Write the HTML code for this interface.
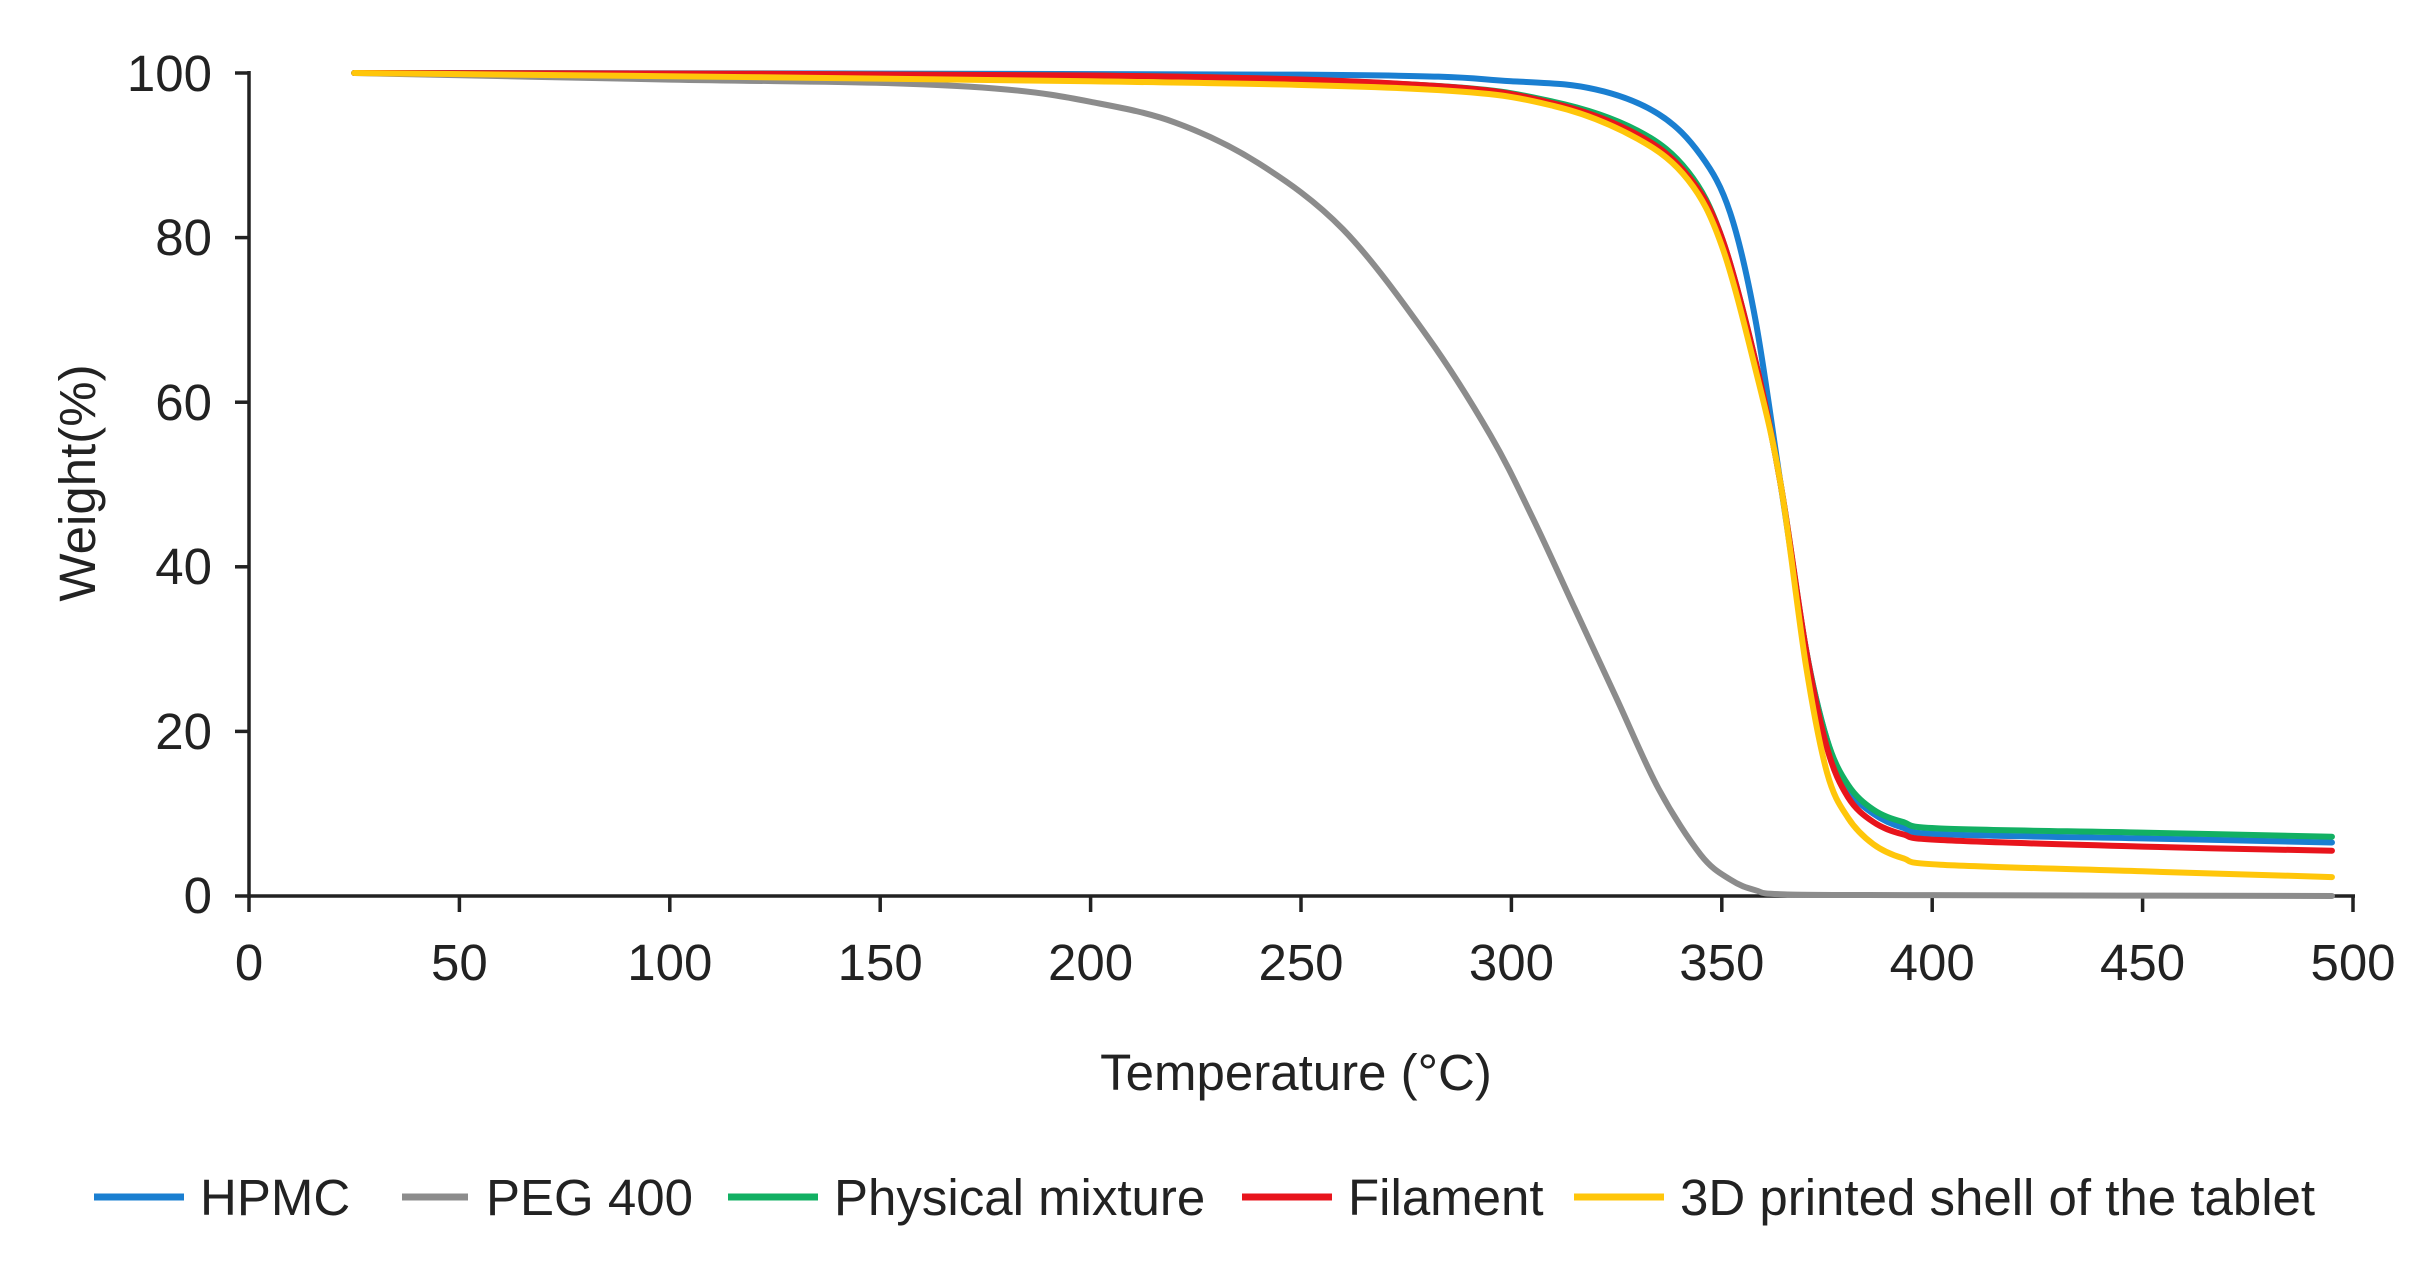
<!DOCTYPE html>
<html><head><meta charset="utf-8"><style>
html,body{margin:0;padding:0;background:#fff;}
svg{display:block;font-family:"Liberation Sans",Arial,sans-serif;}
</style></head><body>
<svg id="s" width="2436" height="1268" viewBox="0 0 2436 1268" xmlns="http://www.w3.org/2000/svg">
<g stroke="#222" stroke-width="3.5" fill="none">
<line x1="249" y1="896" x2="2355" y2="896"/>
<line x1="249" y1="71" x2="249" y2="898"/>
<line x1="249" y1="896" x2="249" y2="912"/><line x1="459.4" y1="896" x2="459.4" y2="912"/><line x1="669.8" y1="896" x2="669.8" y2="912"/><line x1="880.2" y1="896" x2="880.2" y2="912"/><line x1="1090.6" y1="896" x2="1090.6" y2="912"/><line x1="1301" y1="896" x2="1301" y2="912"/><line x1="1511.4" y1="896" x2="1511.4" y2="912"/><line x1="1721.8" y1="896" x2="1721.8" y2="912"/><line x1="1932.2" y1="896" x2="1932.2" y2="912"/><line x1="2142.6" y1="896" x2="2142.6" y2="912"/><line x1="2353" y1="896" x2="2353" y2="912"/>
<line x1="235" y1="73" x2="249" y2="73"/><line x1="235" y1="237.6" x2="249" y2="237.6"/><line x1="235" y1="402.2" x2="249" y2="402.2"/><line x1="235" y1="566.8" x2="249" y2="566.8"/><line x1="235" y1="731.4" x2="249" y2="731.4"/><line x1="235" y1="896" x2="249" y2="896"/>
</g>
<g font-size="51" fill="#222" text-anchor="end">
<text x="212" y="91">100</text><text x="212" y="255">80</text><text x="212" y="420">60</text><text x="212" y="584">40</text><text x="212" y="749">20</text><text x="212" y="913">0</text>
</g>
<g font-size="51" fill="#222" text-anchor="middle">
<text x="249" y="980">0</text><text x="459.4" y="980">50</text><text x="669.8" y="980">100</text><text x="880.2" y="980">150</text><text x="1090.6" y="980">200</text><text x="1301" y="980">250</text><text x="1511.4" y="980">300</text><text x="1721.8" y="980">350</text><text x="1932.2" y="980">400</text><text x="2142.6" y="980">450</text><text x="2353" y="980">500</text>
<text x="1296" y="1090">Temperature (°C)</text>
<text transform="translate(95,483) rotate(-90)">Weight(%)</text>
</g>
<g id="curves" fill="none" stroke-width="6" stroke-linejoin="round" stroke-linecap="round"></g>
<g stroke-width="7">
<line x1="94" y1="1197" x2="184" y2="1197" stroke="#1a7fd1"/>
<line x1="402" y1="1197" x2="468" y2="1197" stroke="#8c8c8c"/>
<line x1="728" y1="1197" x2="818" y2="1197" stroke="#12b063"/>
<line x1="1242" y1="1197" x2="1332" y2="1197" stroke="#e8141c"/>
<line x1="1574" y1="1197" x2="1664" y2="1197" stroke="#ffc60a"/>
</g>
<g font-size="51" fill="#222">
<text x="200" y="1215">HPMC</text>
<text x="486" y="1215">PEG 400</text>
<text x="834" y="1215">Physical mixture</text>
<text x="1348" y="1215">Filament</text>
<text x="1680" y="1215">3D printed shell of the tablet</text>
</g>
</svg>
<script>
var X=function(t){return 249+t*4.208},Y=function(w){return 896-w*8.23};
var S={
"#8c8c8c":[[25,100],[100,99.2],[150,98.8],[180,98],[200,96.5],[220,94],[240,89],[260,81],[280,68],[295,56],[305,46],[315,35],[325,24],[335,13],[345,5],[352,2],[358,0.7],[365,0.2],[400,0.1],[495,0]],
"#1a7fd1":[[25,100],[250,99.8],[300,99],[320,98],[335,95],[345,90],[352,83],[358,70],[364,50],[370,30],[375,19],[380,13],[386,10],[393,8.3],[402,7.5],[450,7],[495,6.5]],
"#12b063":[[25,100],[200,99.7],[280,98.5],[310,96.5],[330,93],[342,88],[350,80],[358,65],[364,50],[370,30],[375,19],[380,13.5],[386,10.5],[393,9],[402,8.2],[450,7.7],[495,7.2]],
"#e8141c":[[25,100],[200,99.7],[280,98.5],[310,96.3],[330,92.5],[342,87.5],[350,80],[358,65],[364,50],[370,30],[375,18],[380,12],[386,9],[393,7.5],[402,6.8],[450,6],[495,5.5]],
"#ffc60a":[[25,100],[200,99],[280,98],[310,96],[330,92],[342,87],[350,79],[358,64],[364,50],[370,28],[375,15],[380,9.5],[386,6.3],[393,4.6],[402,3.8],[450,3],[495,2.3]]};
var g=document.getElementById("curves"),ns="http://www.w3.org/2000/svg";
for(var c in S){var p=S[c].map(function(a){return[X(a[0]),Y(a[1])]});
var d="M"+p[0][0]+","+p[0][1];
for(var i=0;i<p.length-1;i++){var p0=p[i-1]||p[i],p1=p[i],p2=p[i+1],p3=p[i+2]||p2;
d+=" C"+(p1[0]+(p2[0]-p0[0])/6)+","+(p1[1]+(p2[1]-p0[1])/6)+" "+(p2[0]-(p3[0]-p1[0])/6)+","+(p2[1]-(p3[1]-p1[1])/6)+" "+p2[0]+","+p2[1];}
var e=document.createElementNS(ns,"path");e.setAttribute("d",d);e.setAttribute("stroke",c);g.appendChild(e);}
</script>
</body></html>
